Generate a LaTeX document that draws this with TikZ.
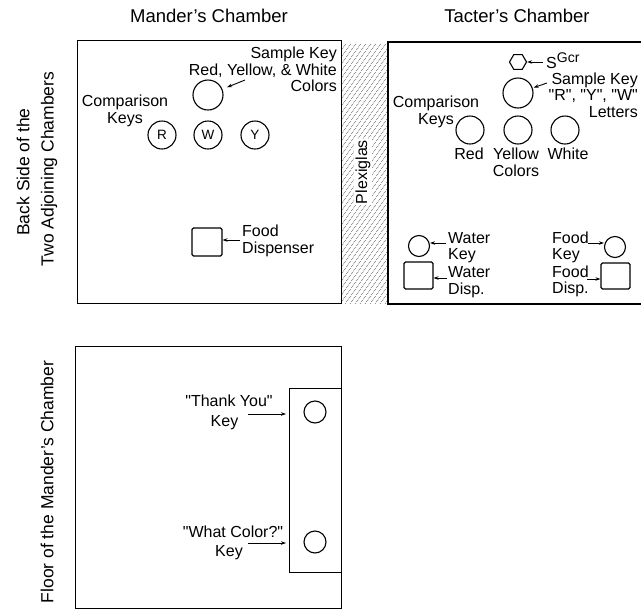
\documentclass[tikz,border=0pt]{standalone}
\usepackage{fontspec}
\setmainfont{Liberation Sans}
\usetikzlibrary{arrows.meta,shapes.geometric}
\newcommand{\qq}{\textquotedbl}
\begin{document}
\begin{tikzpicture}[x=1pt,y=-1pt,
  box/.style={draw, line width=1.3pt, inner sep=0pt},
  key/.style={draw, circle, line width=1.1pt, minimum size=28pt, inner sep=0pt, font=\fontsize{13.5}{14}\selectfont},
  bigkey/.style={key, minimum size=30pt},
  smallkey/.style={key, minimum size=21pt},
  disp/.style={draw, rounded corners=1.5pt, line width=1.1pt, inner sep=0pt},
  lbl/.style={font=\fontsize{16}{16.5}\selectfont, inner sep=0pt},
  ptr/.style={-{Stealth[length=5pt,width=3.5pt]}, line width=0.9pt},
  title/.style={font=\fontsize{18.5}{20}\selectfont, inner sep=0pt},
  side/.style={font=\fontsize{17.5}{18}\selectfont, inner sep=0pt, rotate=90},
  hatch/.style={draw=black!50, line width=0.5pt}
]
\useasboundingbox (0,0) rectangle (641,614);

% titles
\node[title] (tm) at (209,16) {Mander's Chamber};
\node[title] (tt) at (517,16) {Tacter's Chamber};

% side labels
\node[side] (s1) at (23,172) {Back Side of the};
\node[side] (s2) at (49,169) {Two Adjoining Chambers};
\node[side] (s3) at (47,482) {Floor of the Mander's Chamber};

% plexiglas hatch
\begin{scope}
\clip (341,43) rectangle (388,303);
\foreach \i in {0,...,9}{
  \foreach \j in {0,...,76}{
    \draw[hatch] ({341+\i*5+(mod(\j,2))*2.5},{43+\j*3.5}) -- ++(2.4,-2.4);
  }
}
\end{scope}
\node[lbl, rotate=90, fill=white, inner sep=1.2pt] (plex) at (363,172) {Plexiglas};

% Mander's chamber box
\node[box, anchor=north west, minimum width=264pt, minimum height=263pt] (mbox) at (77,40) {};
% Tacter's chamber box (open to the right edge)
\coordinate (ttr) at (642,42);
\coordinate (ttl) at (388,42);
\coordinate (tbl) at (388,304);
\coordinate (tbr) at (642,304);
\draw[line width=1.3pt] (ttr) -- (ttl) -- (tbl) -- (tbr);

% ---- Mander's items
\node[lbl, align=right, anchor=east] (msl) at (337,69.5) {Sample Key\\Red, Yellow, \& White\\Colors};
\node[bigkey] (msample) at (208,95) {};
\coordinate (mst) at (245,80);
\draw[ptr, shorten >=5pt] (mst) -- (msample);
\node[lbl, align=center] (mcl) at (125,111) {Comparison\\Keys};
\node[key] (kR) at (162,135) {R};
\node[key] (kW) at (208,135) {W};
\node[key] (kY) at (255,135) {Y};
\node[disp, minimum width=30pt, minimum height=28pt] (mfood) at (207,242) {};
\coordinate (mft) at (240,240);
\draw[ptr] (mft) -- (mfood.east |- mft);
\node[lbl, align=left, anchor=west] (mfl) at (242,241) {Food\\Dispenser};

% ---- Tacter's items
\node[draw, regular polygon, regular polygon sides=6, minimum size=17pt, inner sep=0pt, line width=1.1pt] (hex) at (518,62) {};
\coordinate (hxt) at (543,62);
\draw[ptr] (hxt) -- (hex);
\node[inner sep=0pt, anchor=west] (sgcr) at (546,61) {\fontsize{16}{16}\selectfont S\raisebox{6pt}{\fontsize{14}{14}\selectfont Gcr}};
\node[bigkey] (tsample) at (518,93) {};
\coordinate (tst) at (547,83);
\draw[ptr, shorten >=1pt] (tst) -- (tsample);
\node[lbl, align=right, anchor=east] (tsl) at (638,95) {Sample Key\\\qq R\qq, \qq Y\qq, \qq W\qq\\Letters};
\node[lbl, align=center] (tcl) at (436,112) {Comparison\\Keys};
\node[key] (tR) at (470,130) {};
\node[key] (tY) at (518,130) {};
\node[key] (tW) at (565,130) {};
\node[lbl] (lr) at (469,154) {Red};
\node[lbl] (ly) at (516,154) {Yellow};
\node[lbl] (lw) at (568,154) {White};
\node[lbl] (lc) at (516,171) {Colors};

\node[smallkey] (wkey) at (419,246) {};
\coordinate (wkt) at (446,243);
\draw[ptr] (wkt) -- (wkey.east |- wkt);
\node[lbl, align=left, anchor=west] (wkl) at (448,247.5) {Water\\Key};
\node[disp, minimum width=29pt, minimum height=27pt] (wdisp) at (418.5,275.5) {};
\coordinate (wdt) at (447,278);
\draw[ptr] (wdt) -- (wdisp.east |- wdt);
\node[lbl, align=left, anchor=west] (wdl) at (448,282) {Water\\Disp.};

\node[smallkey] (fkey) at (615,247) {};
\coordinate (fkt) at (588,243);
\draw[ptr] (fkt) -- (fkey.west |- fkt);
\node[lbl, align=left, anchor=west] (fkl) at (552,247.5) {Food\\Key};
\node[disp, minimum width=29pt, minimum height=26pt] (fdisp) at (615.5,276) {};
\coordinate (fdt) at (587,279);
\draw[ptr] (fdt) -- (fdisp.west |- fdt);
\node[lbl, align=left, anchor=west] (fdl) at (552,281.5) {Food\\Disp.};

% ---- Floor of Mander's chamber
\node[box, anchor=north west, minimum width=266pt, minimum height=262pt] (floor) at (75,346) {};
\node[box, line width=1.2pt, anchor=north west, minimum width=52pt, minimum height=184pt] (panel) at (289,388) {};
\node[key, minimum size=22pt] (thank) at (315,412) {};
\node[key, minimum size=22pt] (what) at (315,542) {};
\coordinate (tkt) at (248,414);
\coordinate (wct) at (248,543);
\draw[ptr] (tkt) -- ([xshift=-3pt]panel.west |- tkt);
\draw[ptr] (wct) -- ([xshift=-3pt]panel.west |- wct);
\node[lbl] (tkl1) at (229,401) {\qq Thank You\qq};
\node[lbl] (tkl2) at (224.5,423) {Key};
\node[lbl] (wcl1) at (233,531.5) {\qq What Color?\qq};
\node[lbl] (wcl2) at (229,553) {Key};
\end{tikzpicture}
\end{document}
